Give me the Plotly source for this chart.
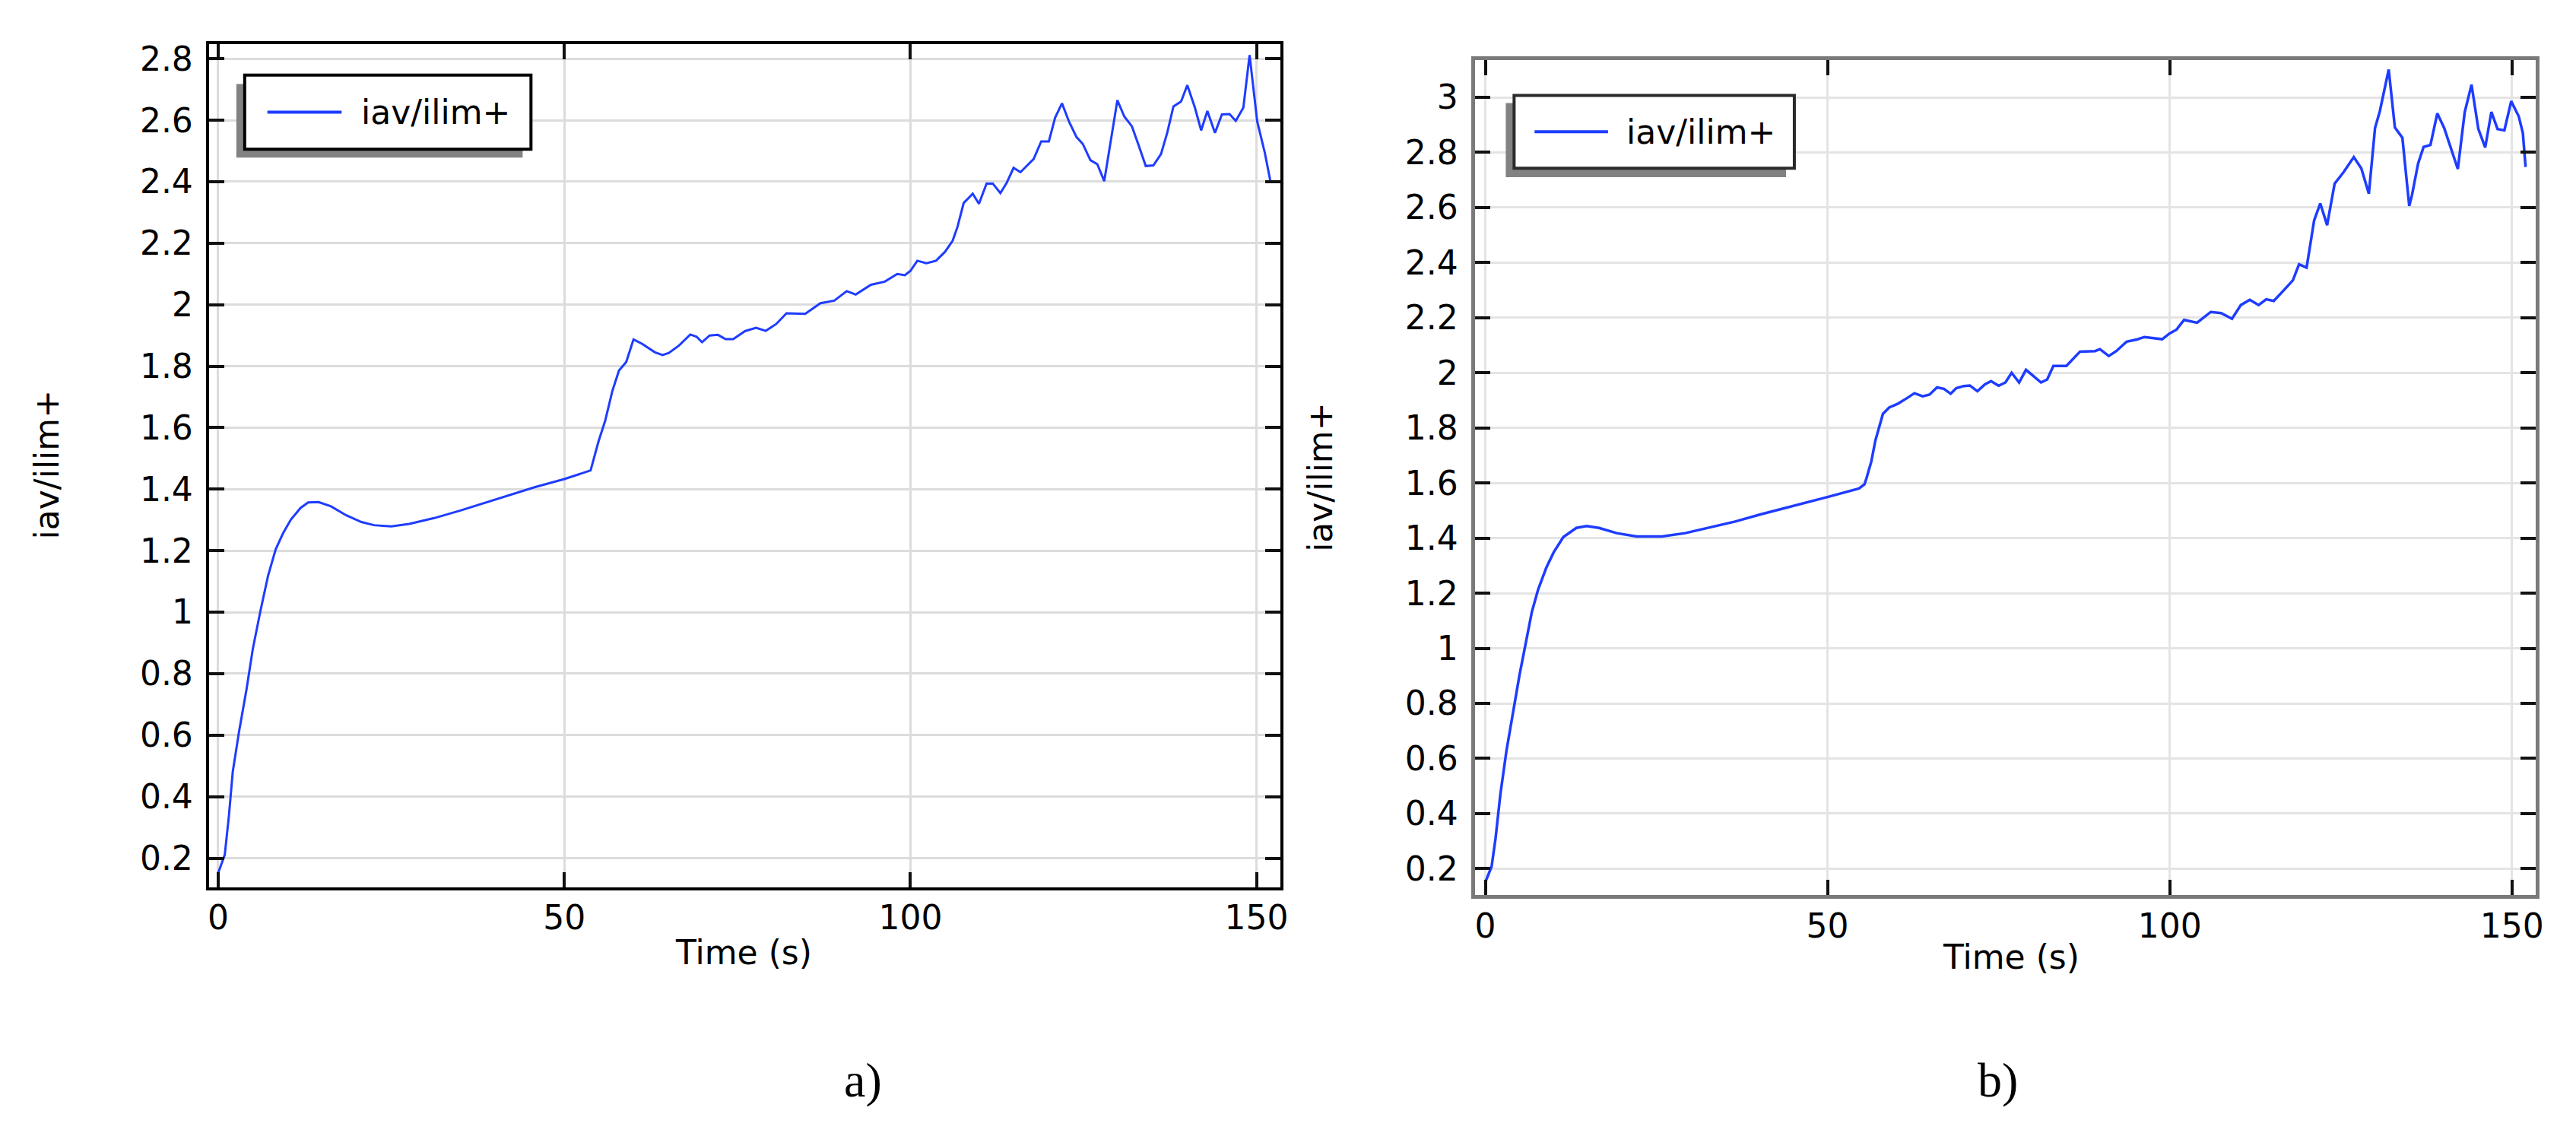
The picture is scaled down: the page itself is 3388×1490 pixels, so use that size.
import plotly.graph_objects as go

# a) 패널 데이터 (Time (s), iav/ilim+)
t_a = [0, 0.95, 1.56, 2.1, 3.0, 4.1, 5.0, 6.1, 7.2, 8.3,
       9.4, 10.5, 11.9, 13.0, 14.5, 16.3, 18.5, 20.7, 22.5, 25.0,
       27.6, 31.2, 34.9, 38.5, 42.1, 45.8, 50.0, 53.8, 54.95, 55.9,
       56.95, 57.9, 58.95, 60.0, 61.3, 63.1, 64.2, 65.1, 66.6, 68.2,
       69.1, 69.9, 71.0, 72.2, 73.3, 74.4, 76.1, 77.7, 79.1, 80.6,
       82.1, 84.8, 87.0, 89.0, 90.8, 92.1, 94.3, 96.3, 98.1, 99.2,
       100.0, 101.0, 102.3, 103.7, 105.0, 106.1, 106.8, 107.7, 109.0, 109.9,
       111.0, 111.9, 113.0, 113.9, 114.9, 115.9, 117.8, 118.9, 120.0, 120.9,
       121.9, 122.9, 124.0, 124.9, 126.0, 127.0, 128.0, 128.9, 129.9, 130.9,
       132.0, 132.9, 134.0, 135.1, 136.2, 137.1, 138.0, 139.1, 140.0, 141.1,
       142.0, 142.9, 144.0, 145.0, 146.1, 147.0, 148.1, 149.0, 150.1, 151.2,
       152.0]
v_a = [0.152, 0.211, 0.34, 0.48, 0.61, 0.75, 0.88, 1.004, 1.118, 1.204,
       1.258, 1.301, 1.339, 1.357, 1.358, 1.344, 1.315, 1.293, 1.283, 1.279,
       1.287, 1.306, 1.330, 1.355, 1.380, 1.407, 1.433, 1.461, 1.556, 1.622,
       1.72, 1.786, 1.814, 1.887, 1.872, 1.845, 1.836, 1.843, 1.868, 1.903,
       1.896, 1.878, 1.90, 1.902, 1.888, 1.888, 1.914, 1.925, 1.915, 1.937,
       1.972, 1.970, 2.005, 2.013, 2.044, 2.033, 2.065, 2.075, 2.10, 2.096,
       2.11, 2.143, 2.135, 2.143, 2.172, 2.208, 2.253, 2.331, 2.361, 2.328,
       2.394, 2.394, 2.363, 2.396, 2.445, 2.431, 2.474, 2.531, 2.531, 2.608,
       2.655, 2.596, 2.545, 2.523, 2.470, 2.457, 2.402, 2.523, 2.665, 2.612,
       2.580, 2.523, 2.451, 2.453, 2.49, 2.559, 2.645, 2.661, 2.714, 2.641,
       2.567, 2.630, 2.559, 2.619, 2.620, 2.598, 2.641, 2.812, 2.596, 2.494,
       2.402]

# b) 패널 데이터
t_b = [0, 0.92, 1.5, 2.2, 3.1, 4.1, 5.0, 5.9, 6.8, 7.7,
       8.9, 10.0, 11.4, 13.3, 14.8, 16.6, 19.2, 22.1, 25.8, 29.2,
       32.8, 36.5, 40.2, 43.9, 47.6, 50.0, 54.6, 55.4, 55.7, 56.4,
       57.0, 57.6, 58.1, 59.0, 60.3, 61.6, 62.7, 63.9, 64.9, 66.0,
       67.0, 68.0, 68.8, 69.9, 70.8, 71.9, 73.0, 73.9, 75.0, 76.0,
       76.9, 78.0, 79.0, 80.1, 81.2, 82.1, 83.0, 84.9, 86.0, 86.9,
       89.1, 89.8, 91.1, 92.2, 93.7, 95.2, 96.3, 97.8, 98.9, 100.0,
       101.0, 102.1, 104.0, 106.0, 107.5, 109.1, 110.4, 111.7, 113.0, 114.1,
       115.2, 116.5, 118.0, 118.9, 120.0, 120.6, 121.1, 122.0, 123.0, 124.1,
       125.4, 126.9, 128.0, 129.1, 130.0, 130.7, 132.0, 132.9, 134.0, 135.0,
       135.4, 136.3, 137.1, 138.1, 139.1, 140.1, 142.1, 143.1, 144.1, 145.1,
       146.1, 147.0, 147.9, 148.9, 149.9, 151.0, 151.6, 152.0]
v_b = [0.151, 0.208, 0.311, 0.470, 0.630, 0.773, 0.904, 1.018, 1.132, 1.212,
       1.292, 1.349, 1.404, 1.437, 1.444, 1.437, 1.418, 1.406, 1.406, 1.418,
       1.438, 1.460, 1.486, 1.509, 1.534, 1.549, 1.580, 1.595, 1.618, 1.678,
       1.755, 1.810, 1.851, 1.874, 1.888, 1.908, 1.926, 1.915, 1.921, 1.947,
       1.942, 1.924, 1.944, 1.952, 1.954, 1.933, 1.958, 1.970, 1.953, 1.965,
       2.0, 1.965, 2.011, 1.988, 1.965, 1.976, 2.025, 2.025, 2.052, 2.077,
       2.079, 2.086, 2.061, 2.079, 2.113, 2.121, 2.130, 2.125, 2.122, 2.143,
       2.157, 2.192, 2.182, 2.221, 2.217, 2.196, 2.246, 2.265, 2.246, 2.267,
       2.261, 2.295, 2.336, 2.394, 2.382, 2.475, 2.553, 2.615, 2.536, 2.687,
       2.728, 2.783, 2.742, 2.650, 2.889, 2.949, 3.101, 2.891, 2.853, 2.606,
       2.645, 2.760, 2.820, 2.827, 2.942, 2.889, 2.740, 2.945, 3.046, 2.885,
       2.818, 2.947, 2.885, 2.880, 2.986, 2.931, 2.871, 2.747]

x_ticks = [0, 50, 100, 150]
series_name = "iav/ilim+"
x_title = "Time (s)"
panel_labels = ["a)", "b)"]

W, H = 3388, 1490
BLUE = "#1e3cff"
FONT = "DejaVu Sans"


def px(x):
    return x / W


def py(y):
    return 1 - y / H


def axis_style(line_color, line_width, grid_color, standoff):
    return dict(
        showline=True, linecolor=line_color, linewidth=line_width, mirror="ticks",
        ticks="inside", ticklen=20, tickwidth=4, tickcolor="#111111",
        showgrid=True, gridcolor=grid_color, gridwidth=3, zeroline=False,
        tickfont=dict(size=44, color="black", family=FONT),
        ticklabelstandoff=standoff,
    )


fig = go.Figure()
fig.add_trace(go.Scatter(x=t_a, y=v_a, mode="lines", name=series_name,
                         line=dict(color=BLUE, width=3), xaxis="x", yaxis="y",
                         showlegend=False))
fig.add_trace(go.Scatter(x=t_b, y=v_b, mode="lines", name=series_name,
                         line=dict(color=BLUE, width=3.5), xaxis="x2", yaxis="y2",
                         showlegend=False))

fig.update_layout(
    width=W, height=H, autosize=False,
    margin=dict(l=0, r=0, t=0, b=0),
    plot_bgcolor="white", paper_bgcolor="white",
    font=dict(family=FONT, color="black"),
    xaxis=dict(domain=[px(265.7), px(1680)], anchor="y", range=[-1.35, 153.4],
               tickvals=x_ticks, **axis_style("black", 4, "#dcdcdc", -2)),
    yaxis=dict(domain=[py(1158), py(44)], anchor="x", range=[0.104, 2.848],
               dtick=0.2, tick0=0, **axis_style("black", 4, "#dcdcdc", 8)),
    xaxis2=dict(domain=[px(1937), px(3338)], anchor="y2", range=[-1.55, 153.5],
                tickvals=x_ticks, **axis_style("#7a7a7a", 5, "#e4e4e4", -2)),
    yaxis2=dict(domain=[py(1167.5), py(65)], anchor="x2", range=[0.105, 3.136],
                dtick=0.2, tick0=0, **axis_style("#7a7a7a", 5, "#e4e4e4", 8)),
)

# 범례 상자 (그림자 + 테두리)
shapes = []
legends = [
    # shadow box, main box, line, text x, y centre, border colour
    ((302, 97, 680, 194), (313, 85, 691, 183), (343, 441), 465, 134, "black"),
    ((1978, 122, 2348, 220), (1989, 112, 2359, 208), (2016, 2113), 2135, 160, "#2a2a2a"),
]
annotations = []
for sh, bx, ln, tx, cy, bc in legends:
    shapes.append(dict(type="rect", xref="paper", yref="paper",
                       x0=px(sh[0]), x1=px(sh[2]), y0=py(sh[3]), y1=py(sh[1]),
                       fillcolor="#828282", line=dict(width=0), layer="above"))
    shapes.append(dict(type="rect", xref="paper", yref="paper",
                       x0=px(bx[0]), x1=px(bx[2]), y0=py(bx[3]), y1=py(bx[1]),
                       fillcolor="white", line=dict(color=bc, width=4), layer="above"))
    shapes.append(dict(type="line", xref="paper", yref="paper",
                       x0=px(ln[0]), x1=px(ln[1]), y0=py(cy), y1=py(cy),
                       line=dict(color=BLUE, width=4), layer="above"))
    annotations.append(dict(x=px(tx), y=py(cy), xref="paper", yref="paper",
                            text=series_name, showarrow=False, xanchor="left",
                            yanchor="middle", font=dict(size=44, family=FONT)))

# 축 제목과 패널 라벨
for x, y in [(52, 600), (1733, 616)]:
    annotations.append(dict(x=px(x), y=py(y), xref="paper", yref="paper",
                            text=series_name, showarrow=False, textangle=-90,
                            xanchor="center", yanchor="middle",
                            font=dict(size=44, family=FONT)))
for x, y in [(972, 1244), (2645, 1250)]:
    annotations.append(dict(x=px(x), y=py(y), xref="paper", yref="paper",
                            text=x_title, showarrow=False,
                            xanchor="center", yanchor="middle",
                            font=dict(size=44, family=FONT)))
for lab, x in zip(panel_labels, [1129, 2628]):
    annotations.append(dict(x=px(x), y=py(1412), xref="paper", yref="paper",
                            text=lab, showarrow=False,
                            xanchor="center", yanchor="middle",
                            font=dict(size=64, family="Liberation Serif")))

fig.update_layout(shapes=shapes, annotations=annotations)

fig.write_html("out.html")
